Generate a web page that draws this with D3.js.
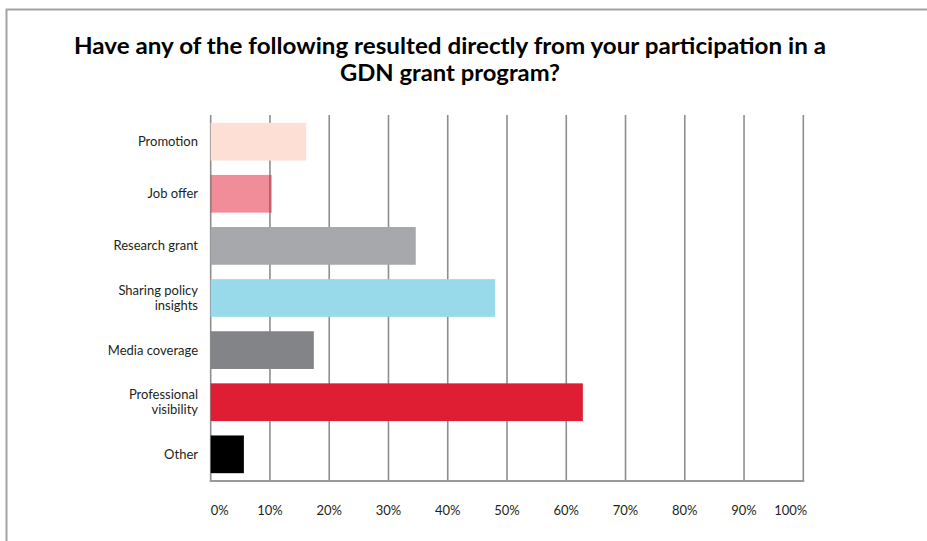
<!DOCTYPE html>
<html>
<head>
<meta charset="utf-8">
<script src="https://cdn.jsdelivr.net/npm/d3@7"></script>
<style>
  html, body { margin: 0; padding: 0; background: #fff; }
  svg { display: block; }
</style>
</head>
<body>
<svg id="chart" width="927" height="541"></svg>
<script>
const categories = ["Promotion", "Job offer", "Research grant", "Sharing policy insights", "Media coverage", "Professional visibility", "Other"];
const labelLines = [["Promotion"], ["Job offer"], ["Research grant"], ["Sharing policy", "insights"], ["Media coverage"], ["Professional", "visibility"], ["Other"]];
const values = [16.1, 10.3, 34.6, 48.0, 17.4, 62.8, 5.6];
const barColors = ["#FDDFD6", "#E31B33", "#A7A8AC", "#99DAEA", "#838487", "#DF1D33", "#000000"];
const barOpacity = [1, 0.5, 1, 1, 1, 1, 1];
const tickValues = [0, 10, 20, 30, 40, 50, 60, 70, 80, 90, 100];
const tickLabels = ["0%", "10%", "20%", "30%", "40%", "50%", "60%", "70%", "80%", "90%", "100%"];
const titleLines = ["Have any of the following resulted directly from your participation in a", "GDN grant program?"];
const titleWidths = [752, 220];

const svg = d3.select("#chart");
const font = "Lato, 'Open Sans', sans-serif";

// frame
svg.append("path")
  .attr("d", "M6.5,541 V9.5 H927")
  .attr("fill", "none").attr("stroke", "#A3A3A3").attr("stroke-width", 2);

const x = d3.scaleLinear().domain([0, 100]).range([210.7, 803.3]);
const y = d3.scaleBand().domain(categories).range([115, 481]).paddingInner(0.276).paddingOuter(0.15);

// title
svg.append("g").selectAll("text").data(titleLines).join("text")
  .attr("x", 450).attr("y", (d, i) => 54 + i * 27)
  .attr("text-anchor", "middle")
  .attr("font-family", font).attr("font-weight", "bold").attr("font-size", 23)
  .attr("textLength", (d, i) => titleWidths[i])
  .attr("lengthAdjust", "spacingAndGlyphs")
  .attr("fill", "#000")
  .text(d => d);

// gridlines
svg.append("g").selectAll("line").data(tickValues).join("line")
  .attr("x1", d => x(d)).attr("x2", d => x(d))
  .attr("y1", 115).attr("y2", 481)
  .attr("stroke", "#8E8E8E").attr("stroke-width", 1.6);

// bars
svg.append("g").selectAll("rect").data(categories).join("rect")
  .attr("x", x(0))
  .attr("y", d => y(d))
  .attr("width", (d, i) => x(values[i]) - x(0))
  .attr("height", y.bandwidth())
  .attr("fill", (d, i) => barColors[i])
  .attr("fill-opacity", (d, i) => barOpacity[i]);

// bottom axis line
svg.append("line")
  .attr("x1", x(0) - 1).attr("x2", x(100) + 1)
  .attr("y1", 481).attr("y2", 481)
  .attr("stroke", "#9A9A9A").attr("stroke-width", 2.2);

// x tick labels
svg.append("g").selectAll("text").data(tickValues).join("text")
  .attr("x", (d, i) => i === 0 ? x(d) : (i === tickValues.length - 1 ? x(d) + 4 : x(d)))
  .attr("y", 515)
  .attr("text-anchor", (d, i) => i === 0 ? "start" : (i === tickValues.length - 1 ? "end" : "middle"))
  .attr("font-family", font).attr("font-size", 13).attr("fill", "#231F20")
  .text((d, i) => tickLabels[i]);

// category labels
const lab = svg.append("g").selectAll("text").data(categories).join("text")
  .attr("text-anchor", "end")
  .attr("font-family", font).attr("font-size", 13).attr("fill", "#231F20");
lab.each(function(d, i) {
  const lines = labelLines[i];
  const cy = y(d) + y.bandwidth() / 2;
  const lh = 15.5;
  const t = d3.select(this);
  lines.forEach((ln, j) => {
    t.append("tspan")
      .attr("x", 198)
      .attr("y", cy + (j - (lines.length - 1) / 2) * lh + 4.5)
      .text(ln);
  });
});
</script>
</body>
</html>
